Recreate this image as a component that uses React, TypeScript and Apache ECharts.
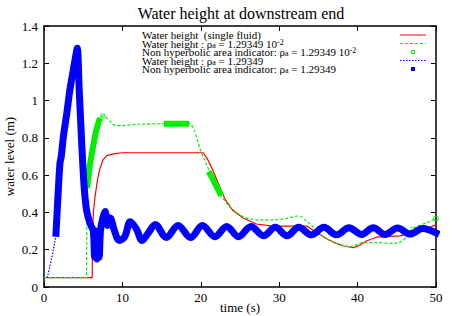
import React, { useEffect, useRef } from "react";
import * as echarts from "echarts";

const FONT = "Liberation Serif";

const titleText = "Water height at downstream end";
const xAxisName = "time (s)";
const yAxisName = "water level (m)";

// Water height (single fluid)
const redX = [0, 6.15, 6.2, 6.3, 6.5, 6.8, 7.1, 7.5, 8.0, 9.0, 10.0, 20.3, 20.8, 21.5, 22.3, 23.1, 24.1, 25.4, 27.1, 29.2, 33.5, 34.5, 36.0, 37.2, 38.2, 39.5, 40.3, 41.2, 42.4, 45.4, 46.7, 48.4, 50];
const redY = [0.05, 0.05, 0.3, 0.4, 0.48, 0.57, 0.63, 0.68, 0.705, 0.715, 0.72, 0.72, 0.69, 0.63, 0.55, 0.47, 0.41, 0.37, 0.338, 0.327, 0.327, 0.3, 0.26, 0.235, 0.22, 0.211, 0.225, 0.248, 0.267, 0.274, 0.288, 0.306, 0.333];

// Water height : rho_a = 1.29349e-2
const greenX = [0, 5.4, 5.45, 5.5, 5.8, 6.2, 6.6, 7.0, 7.4, 7.8, 8.4, 9.1, 10, 12, 15, 18.6, 19.2, 19.9, 20.5, 21.4, 22.4, 23.7, 25.4, 27.1, 29.2, 31, 32.2, 32.8, 33.3, 33.9, 35.6, 37.3, 39, 40.7, 42.4, 44.6, 45.8, 46.7, 47.5, 48.8, 50];
const greenY = [0.05, 0.05, 0.3, 0.53, 0.64, 0.74, 0.83, 0.89, 0.917, 0.915, 0.89, 0.866, 0.866, 0.873, 0.876, 0.876, 0.84, 0.74, 0.68, 0.59, 0.5, 0.43, 0.377, 0.36, 0.36, 0.368, 0.38, 0.378, 0.36, 0.34, 0.27, 0.234, 0.216, 0.238, 0.238, 0.234, 0.25, 0.297, 0.323, 0.345, 0.368];

// Non hyperbolic area indicator : rho_a = 1.29349e-2 — dense runs (null = gap)
const greenIndX = [5.5, 5.8, 6.2, 6.6, 7.0, 7.2, 7.3, 15.3, 18.5, 18.6, 21.0, 21.4, 22.0, 22.6];
const greenIndY = [0.53, 0.64, 0.74, 0.83, 0.89, 0.905, null, 0.876, 0.876, null, 0.62, 0.59, 0.54, 0.49];
// isolated indicator points
const greenPtX = [7.5, 47.1, 50];
const greenPtY = [0.917, 0.31, 0.368];

// Water height : rho_a = 1.29349
const blueX = [0.42, 1.0, 1.53, 1.8, 2.04, 2.2, 2.47, 2.9, 3.3, 3.8, 4.2, 4.25, 4.5, 4.8, 5.1, 5.4, 5.8, 6.1, 6.3, 6.45, 6.6, 6.75, 6.9, 7.05, 7.2, 7.5, 7.8, 8.1, 8.4, 8.6, 9.0, 9.6, 10.3, 11.0, 11.8, 12.5, 13.3, 14.2, 15.6, 17.1, 18.7, 20.2, 21.8, 23.3, 24.8, 26.4, 28.0, 29.5, 31.0, 32.5, 34.1, 35.7, 37.3, 38.9, 40.5, 42.0, 43.5, 45.1, 46.7, 48.3, 50];
const blueY = [0.05, 0.16, 0.288, 0.5, 0.665, 0.7, 0.806, 0.93, 1.057, 1.18, 1.275, 1.28, 1.05, 0.78, 0.55, 0.42, 0.35, 0.32, 0.3, 0.16, 0.3, 0.15, 0.3, 0.16, 0.3, 0.37, 0.405, 0.33, 0.37, 0.36, 0.3, 0.25, 0.27, 0.35, 0.31, 0.25, 0.29, 0.335, 0.265, 0.33, 0.265, 0.33, 0.27, 0.325, 0.27, 0.325, 0.275, 0.32, 0.275, 0.32, 0.28, 0.32, 0.28, 0.318, 0.282, 0.318, 0.282, 0.316, 0.284, 0.314, 0.29];
// Non hyperbolic area indicator : rho_a = 1.29349 (covers the curve from here on)
const blueIndStart = 1.53;

const legendLines = [
  "{n|Water height  (single fluid)}",
  "{n|Water height : ρ}{sub|a}{n| = 1.29349 10}{sup|-2}",
  "{n|Non hyperbolic area indicator: ρ}{sub|a}{n| = 1.29349 10}{sup|-2}",
  "{n|Water height : ρ}{sub|a}{n| = 1.29349}",
  "{n|Non hyperbolic area indicator: ρ}{sub|a}{n| = 1.29349}",
];

const pairs = (xs: number[], ys: (number | null)[]) => xs.map((x, i) => [x, ys[i]]);

export default function App() {
  const ref = useRef<HTMLDivElement>(null);
  useEffect(() => {
    if (!ref.current) return;
    const chart = echarts.init(ref.current, undefined, { renderer: "svg" });
    const black = "#000";
    const axisCommon = {
      type: "value" as const,
      splitLine: { show: false },
      axisLine: { show: true, onZero: false, lineStyle: { color: black, width: 1.5 } },
      axisTick: { show: true, inside: true, length: 5, lineStyle: { color: black, width: 1 } },
    };
    const rich = {
      n: { fontFamily: FONT, fontSize: 11, lineHeight: 11, color: black },
      sub: { fontFamily: FONT, fontSize: 8, lineHeight: 3, verticalAlign: "bottom", color: black },
      sup: { fontFamily: FONT, fontSize: 8, lineHeight: 3, verticalAlign: "top", color: black },
    };
    const legendY = [35, 43.5, 52, 60.5, 69];
    const graphic: any[] = [
      {
        type: "text",
        x: 241,
        y: 13,
        style: { text: titleText, fill: black, fontFamily: FONT, fontSize: 16, textAlign: "center", textVerticalAlign: "middle" },
      },
      ...legendLines.map((t, i) => ({
        type: "text",
        x: 142,
        y: legendY[i],
        style: { text: t, rich, fill: black, textAlign: "left", textVerticalAlign: "middle", fontFamily: FONT, fontSize: 11 },
      })),
      { type: "line", shape: { x1: 400, y1: 35, x2: 426, y2: 35 }, style: { stroke: "#ff0000", lineWidth: 1 } },
      { type: "line", shape: { x1: 400, y1: 43.5, x2: 426, y2: 43.5 }, style: { stroke: "#00ee00", lineWidth: 1, lineDash: [3, 2] } },
      { type: "rect", shape: { x: 411.5, y: 50.5, width: 3, height: 3 }, style: { stroke: "#00ee00", fill: "none", lineWidth: 1 } },
      { type: "line", shape: { x1: 400, y1: 60.5, x2: 426, y2: 60.5 }, style: { stroke: "#0000ff", lineWidth: 1, lineDash: [1.5, 1.5] } },
      { type: "rect", shape: { x: 411, y: 67, width: 4, height: 4 }, style: { fill: "#0000ff" } },
    ];

    const blueData = pairs(blueX, blueY);
    const blueInd = blueData.filter((p) => (p[0] as number) >= blueIndStart);

    chart.setOption({
      animation: false,
      backgroundColor: "#fff",
      grid: { left: 44, right: 16, top: 26, bottom: 29, containLabel: false, outerBoundsMode: "none" },
      graphic,
      xAxis: [
        {
          ...axisCommon,
          position: "bottom",
          min: 0,
          max: 50,
          interval: 10,
          axisLabel: { color: black, fontFamily: FONT, fontSize: 13, margin: 4 },
          name: xAxisName,
          nameLocation: "middle",
          nameGap: 14,
          nameMoveOverlap: false,
          nameTextStyle: { color: black, fontFamily: FONT, fontSize: 13 },
        },
        { ...axisCommon, position: "top", min: 0, max: 50, interval: 10, axisLabel: { show: false } },
      ],
      yAxis: [
        {
          ...axisCommon,
          position: "left",
          min: 0,
          max: 1.4,
          interval: 0.2,
          axisLabel: {
            color: black,
            fontFamily: FONT,
            fontSize: 13,
            margin: 6,
            formatter: (v: number) => String(Math.round(v * 10) / 10),
          },
          name: yAxisName,
          nameLocation: "middle",
          nameGap: 28,
          nameRotate: 90,
          nameMoveOverlap: false,
          nameTextStyle: { color: black, fontFamily: FONT, fontSize: 13 },
        },
        { ...axisCommon, position: "right", min: 0, max: 1.4, interval: 0.2, axisLabel: { show: false } },
      ],
      series: [
        {
          type: "line",
          data: pairs(redX, redY),
          showSymbol: false,
          lineStyle: { color: "#ff0000", width: 1.2 },
          z: 2,
        },
        {
          type: "line",
          data: pairs(greenX, greenY),
          showSymbol: false,
          smooth: 0.2,
          lineStyle: { color: "#00ee00", width: 1.2, type: [3, 2] },
          z: 3,
        },
        {
          type: "line",
          data: pairs(greenIndX, greenIndY),
          connectNulls: false,
          showSymbol: false,
          lineStyle: { color: "#00ee00", width: 6 },
          z: 4,
        },
        {
          type: "scatter",
          data: pairs(greenPtX, greenPtY),
          symbol: "rect",
          symbolSize: 4,
          itemStyle: { color: "rgba(0,0,0,0)", borderColor: "#00ee00", borderWidth: 1 },
          z: 4,
        },
        {
          type: "line",
          data: blueData,
          showSymbol: false,
          smooth: 0.35,
          lineStyle: { color: "#0000ff", width: 1.2, type: [1.5, 1.5] },
          z: 5,
        },
        {
          type: "line",
          data: blueInd,
          showSymbol: false,
          smooth: 0.35,
          lineStyle: { color: "#0000ff", width: 7, cap: "square", join: "round" },
          z: 6,
        },
      ],
    });
    return () => chart.dispose();
  }, []);
  return <div ref={ref} style={{ position: "fixed", left: 0, top: 0, width: 452, height: 316 }} />;
}
